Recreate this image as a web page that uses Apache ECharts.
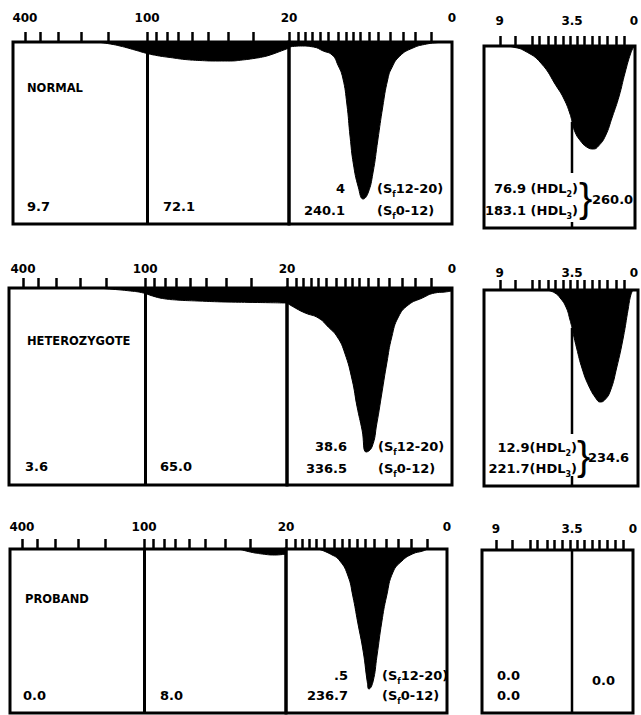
<!DOCTYPE html>
<html><head><meta charset="utf-8">
<script src="https://cdn.jsdelivr.net/npm/echarts@6/dist/echarts.min.js"></script>
<style>html,body{margin:0;padding:0;background:#fff}#c{width:641px;height:715px}</style>
</head><body><div id="c"></div>
<script>
// ---- axis ticks / labels (Sf units) ----
const ticksAB = [400, 335, 275, 210, 155, 100, 90, 80, 70, 60, 50, 40, 30, 20];
const labelsAB = [400, 100, 20];
const ticksC = [18.9, 18, 17.1, 16.2, 15.2, 14, 13, 12.1, 11.2, 10.2, 9, 7.6, 6, 4.5, 2.5];
const labelsC = [0];
const ticksD1 = [9, 7.8, 6.5, 6, 5.3, 4.8, 4.2, 3.65];
const labelsD1 = [9];
const ticksD2 = [3.2, 2.8, 2.35, 1.95, 1.5, 1.0, 0.55];
const labelsD2 = [3.5, 0];
const dividerAB = 100;
const dividerD = 3.5;

// ---- row names and values ----
const rowNames = ['NORMAL', 'HETEROZYGOTE', 'PROBAND'];
const valSf100to400 = ['9.7', '3.6', '0.0'];
const valSf20to100 = ['72.1', '65.0', '8.0'];
const valSf12to20 = ['4', '38.6', '.5'];
const valSf0to12 = ['240.1', '336.5', '236.7'];
const valHDL2 = ['76.9', '12.9', '0.0'];
const valHDL3 = ['183.1', '221.7', '0.0'];
const valHDLtotal = ['260.0', '234.6', '0.0'];

// ---- schlieren curves: [Sf, deflection] ----
const normalAB = [[176,0],[152,2],[136,4],[115,8],[100,11.5],[87,14],[77,15.5],[65,17.5],[55,18.5],[46,19],[39,19],[34,18],[31,17],[27,15],[24.8,13],[22.2,9.5],[20,6]];
const normalC = [[20,5],[18.6,4],[17,5],[15.8,9],[14.7,13],[14,23],[13.4,36],[12.9,62],[12.5,95],[12.1,122],[11.5,145],[10.9,157],[10.3,151],[9.7,131],[9.1,98],[8.5,65],[7.9,38],[7.4,26],[6.4,14],[4.8,6],[3.1,2],[1.7,0.5],[1,0]];
const normalD1 = [[8.6,0],[8.0,1],[7.09,5],[5.87,17],[4.65,41],[4.11,53],[3.65,68],[3.5,76]];
const normalD2 = [[3.5,76],[3.33,86],[3.06,94],[2.67,101],[2.28,103],[2.0,100],[1.61,90],[1.22,71],[0.83,50],[0.5,27],[0.17,7],[0,1]];

const hetAB = [[172,0],[150,1],[118,3],[102,5],[92,8],[82,10.5],[70,12],[55,13],[40,14],[28,14.5],[20,15]];
const hetC = [[20,15],[19,20],[17.8,25],[16.2,30],[15,39],[13.9,49],[13,65],[12.1,92],[11.5,119],[10.9,142],[10.4,164],[9.7,159],[9.1,135],[8.5,105],[7.9,75],[7.3,49],[6.5,29],[5.3,17],[3.6,10],[2.1,5],[0.85,4],[0,3]];
const hetD1 = [[5.4,0],[4.8,3],[4.4,8],[3.96,17],[3.65,30],[3.5,38]];
const hetD2 = [[3.5,38],[3.24,58],[2.92,79],[2.55,96],[2.12,109],[1.91,112],[1.65,110],[1.33,101],[0.96,77],[0.59,47],[0.32,19],[0.17,5],[0.05,0]];

const probandAB = [[34,0],[30,3],[26.2,5],[22.7,6],[20,5]];
const probandC = [[16,0],[14.5,5],[13.3,12],[12.3,27],[11.7,47],[11.1,73],[10.4,103],[9.9,133],[9.7,140],[9.2,133],[8.7,107],[8.1,73],[7.5,47],[6.7,23],[5.6,12],[4.3,5],[3.0,2],[2.4,0]];
const probandD1 = [];
const probandD2 = [];

// visible parts of the 3.5 divider: [from, to] deflection
const dividerSegs = [[[76,127],[176,182]], [[38,144],[186,196]], [[0,163]]];

const curvesAB = [normalAB, hetAB, probandAB];
const curvesC = [normalC, hetC, probandC];
const curvesD1 = [normalD1, hetD1, probandD1];
const curvesD2 = [normalD2, hetD2, probandD2];

// ---- layout (pixels) ----
const layout = [
  {top:42, h:182, abL:13, abW:276, abMax:458, cW:163, rTop:46, rH:182, rL:484, d1W:88, d2W:63, d1Max:10.2, lm:18, rlm:19},
  {top:288, h:197, abL:9, abW:278, abMax:469, cW:165, rTop:290, rH:196, rL:484, d1W:88, d2W:66, d1Max:10.2, lm:13, rlm:11},
  {top:549, h:164, abL:10, abW:276, abMax:458, cW:161, rTop:550, rH:163, rL:482, d1W:90, d2W:61, d1Max:10.0, lm:16, rlm:15}
];

const FONT = 'DejaVu Sans';
function xCfg(gi, type, min, max, ticks, labels, margin) {
  const a = {gridIndex:gi, type, min, max, inverse:true, position:'top',
    axisLine:{show:false}, splitLine:{show:false}, minorTick:{show:false},
    axisTick:{show:!!ticks, inside:false, length:10, lineStyle:{color:'#000', width:2.5}, customValues:ticks || []},
    axisLabel:{show:!!labels, customValues:labels || [], margin, color:'#000', fontFamily:FONT, fontWeight:'bold', fontSize:12,
      formatter: v => String(v)}
  };
  if (type === 'log') a.logBase = 10;
  return a;
}
function yCfg(gi, max) { return {gridIndex:gi, type:'value', min:0, max, inverse:true, show:false}; }
function curve(gi, data) {
  return {type:'line', xAxisIndex:gi, yAxisIndex:gi, data, smooth:0.5, symbol:'none', silent:true,
    lineStyle:{color:'#000', width:1}, areaStyle:{color:'#000', opacity:1}, animation:false};
}

const grid = [], xAxis = [], yAxis = [], series = [], texts = [];
layout.forEach((L, r) => {
  let gi = grid.length;
  // 400 -> 20 (log scale)
  grid.push({left:L.abL, top:L.top, width:L.abW, height:L.h, show:true, borderColor:'#000', borderWidth:3, backgroundColor:'transparent'});
  xAxis.push(xCfg(gi, 'log', 20, L.abMax, ticksAB, labelsAB, L.lm)); yAxis.push(yCfg(gi, L.h));
  const sAB = curve(gi, curvesAB[r]);
  sAB.markLine = {silent:true, symbol:'none', label:{show:false}, lineStyle:{color:'#000', width:3, type:'solid'}, data:[{xAxis:dividerAB}]};
  series.push(sAB);
  // 20 -> 0
  gi = grid.length;
  grid.push({left:L.abL + L.abW, top:L.top, width:L.cW, height:L.h, show:true, borderColor:'#000', borderWidth:3, backgroundColor:'transparent'});
  xAxis.push(xCfg(gi, 'value', 0, 20, ticksC, labelsC, L.lm)); yAxis.push(yCfg(gi, L.h));
  series.push(curve(gi, curvesC[r]));
  // right frame
  gi = grid.length;
  grid.push({left:L.rL, top:L.rTop, width:L.d1W + L.d2W, height:L.rH, show:true, borderColor:'#000', borderWidth:3, backgroundColor:'transparent'});
  xAxis.push({gridIndex:gi, type:'value', min:0, max:1, show:false}); yAxis.push({gridIndex:gi, type:'value', min:0, max:1, show:false});
  // 9 -> 3.5
  gi = grid.length;
  grid.push({left:L.rL, top:L.rTop, width:L.d1W, height:L.rH, show:false});
  xAxis.push(xCfg(gi, 'value', dividerD, L.d1Max, ticksD1, labelsD1, L.rlm)); yAxis.push(yCfg(gi, L.rH));
  if (curvesD1[r].length) series.push(curve(gi, curvesD1[r]));
  // 3.5 -> 0
  gi = grid.length;
  grid.push({left:L.rL + L.d1W, top:L.rTop, width:L.d2W, height:L.rH, show:false});
  xAxis.push(xCfg(gi, 'value', 0, dividerD, ticksD2, labelsD2, L.rlm)); yAxis.push(yCfg(gi, L.rH));
  if (curvesD2[r].length) series.push(curve(gi, curvesD2[r]));
  dividerSegs[r].forEach(seg => {
    series.push({type:'line', xAxisIndex:gi, yAxisIndex:gi, data:[[dividerD, seg[0]], [dividerD, seg[1]]], symbol:'none', clip:false, silent:true,
      lineStyle:{color:'#000', width:2.5}, animation:false});
  });
});

const subRich = {s:{fontSize:8, fontWeight:'bold', fontFamily:FONT, lineHeight:8, verticalAlign:'bottom', fill:'#000'}};
function T(x, y, text, align, size, extra) {
  return {type:'text', x, y, silent:true, z:100,
    style:Object.assign({text, fill:'#000', fontSize:size || 13, fontWeight:'bold', fontFamily:FONT, align:align || 'left', verticalAlign:'middle', lineHeight:20, rich:subRich}, extra || {})};
}
function brace(x, y) {
  return {type:'text', x, y, silent:true, z:100, style:{text:'}', fill:'#000', fontSize:40, fontWeight:'normal', fontFamily:'Liberation Sans', align:'left', verticalAlign:'middle'}};
}
const sf1 = '(S{s|f}12-20)', sf0 = '(S{s|f}0-12)';
// Normal
texts.push(T(27, 88, rowNames[0], 'left', 11.5));
texts.push(T(27, 206, valSf100to400[0]), T(163, 206, valSf20to100[0]));
texts.push(T(345, 188, valSf12to20[0], 'right'), T(345, 210, valSf0to12[0], 'right'));
texts.push(T(377, 188, sf1), T(377, 210, sf0));
texts.push(T(578, 188, valHDL2[0] + ' (HDL{s|2})', 'right'), T(578, 210, valHDL3[0] + ' (HDL{s|3})', 'right'));
texts.push(brace(579, 198), T(592, 199, valHDLtotal[0]));
// Heterozygote
texts.push(T(27, 341, rowNames[1], 'left', 11.5));
texts.push(T(25, 466, valSf100to400[1]), T(160, 466, valSf20to100[1]));
texts.push(T(347, 446, valSf12to20[1], 'right'), T(347, 468, valSf0to12[1], 'right'));
texts.push(T(378, 446, sf1), T(378, 468, sf0));
texts.push(T(577, 447, valHDL2[1] + '(HDL{s|2})', 'right'), T(577, 468, valHDL3[1] + '(HDL{s|3})', 'right'));
texts.push(brace(577, 456), T(588, 457, valHDLtotal[1]));
// Proband
texts.push(T(25, 599, rowNames[2], 'left', 11.5));
texts.push(T(23, 695, valSf100to400[2]), T(160, 695, valSf20to100[2]));
texts.push(T(348, 675, valSf12to20[2], 'right'), T(348, 695, valSf0to12[2], 'right'));
texts.push(T(382, 675, sf1), T(382, 695, sf0));
texts.push(T(497, 675, valHDL2[2]), T(497, 695, valHDL3[2]), T(592, 680, valHDLtotal[2]));

const chart = echarts.init(document.getElementById('c'), null, {renderer:'svg', width:641, height:715});
chart.setOption({backgroundColor:'#fff', animation:false, grid, xAxis, yAxis, series, graphic:{elements:texts}});
</script></body></html>
